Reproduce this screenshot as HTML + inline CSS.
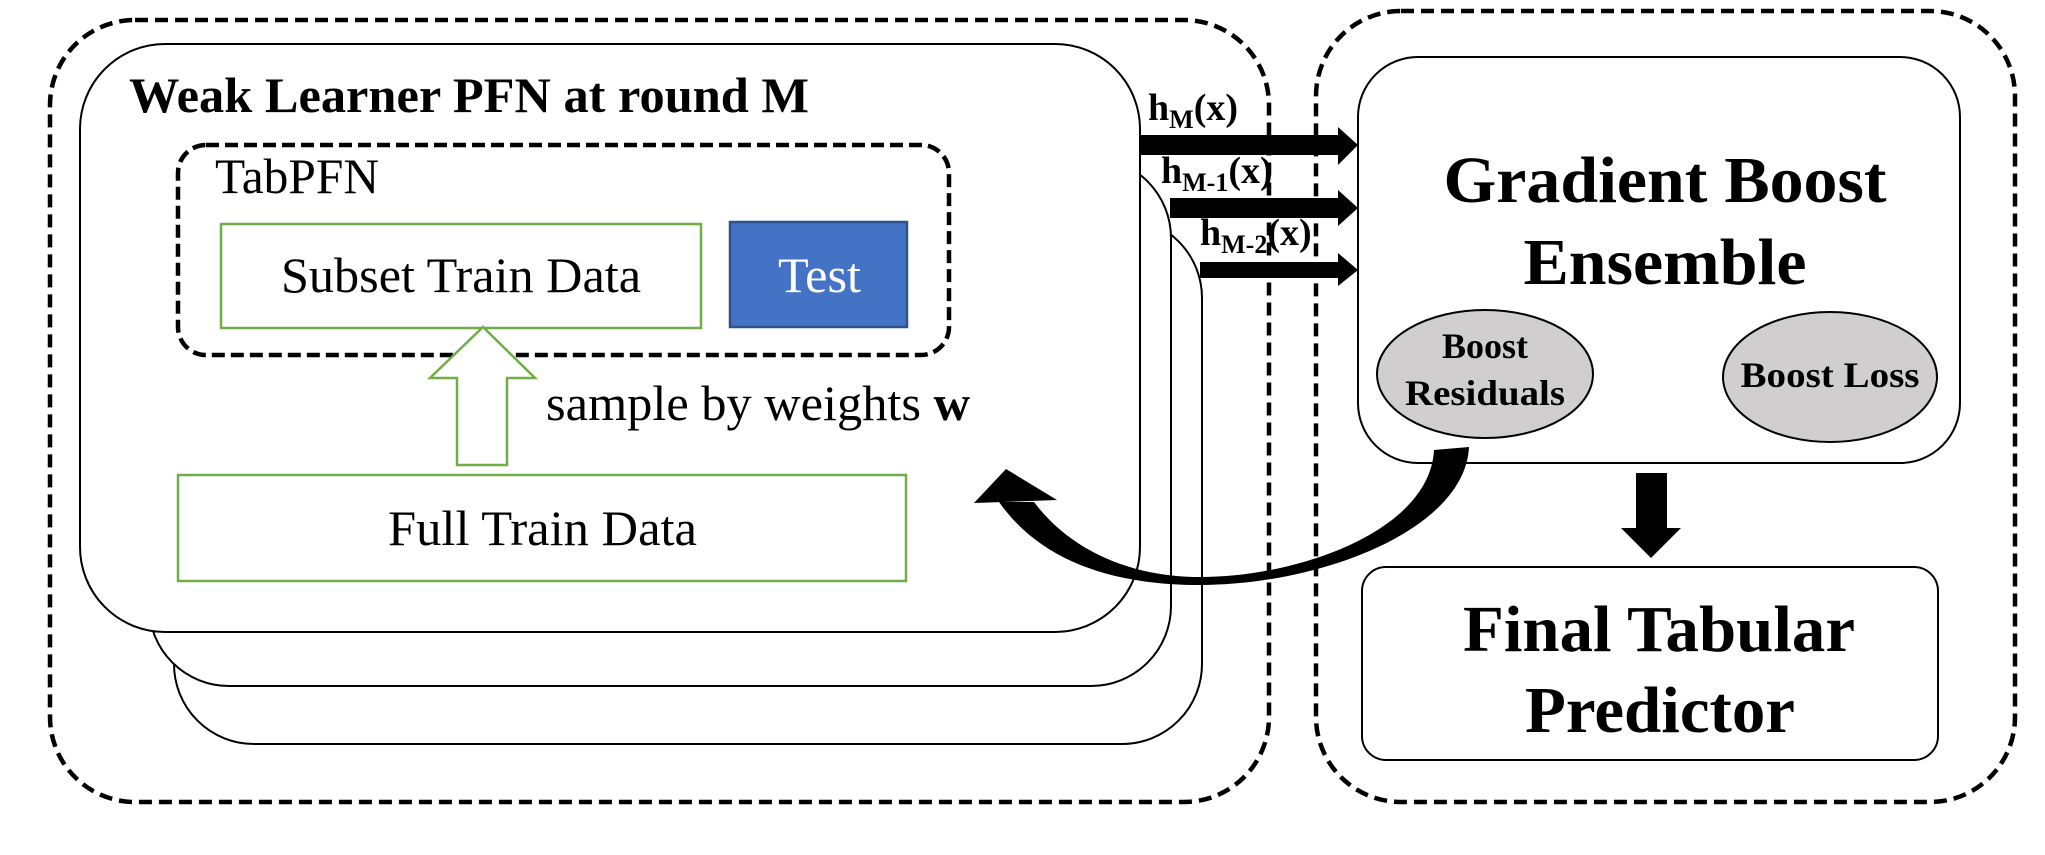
<!DOCTYPE html>
<html><head><meta charset="utf-8"><style>
html,body{margin:0;padding:0;background:#fff;}
svg{display:block;}
text{font-family:"Liberation Serif",serif;}
</style></head><body>
<svg width="2045" height="855" viewBox="0 0 2045 855" xmlns="http://www.w3.org/2000/svg">
<rect width="2045" height="855" fill="#fff"/>
<!-- stacked cards -->
<rect x="174" y="218" width="1028" height="526" rx="80" fill="#fff" stroke="#000" stroke-width="2"/>
<rect x="149" y="158" width="1022" height="528" rx="80" fill="#fff" stroke="#000" stroke-width="2"/>
<rect x="80" y="44" width="1060" height="588" rx="85" fill="#fff" stroke="#000" stroke-width="2"/>
<text x="129" y="112" font-size="50" font-weight="bold" textLength="680" lengthAdjust="spacingAndGlyphs">Weak Learner PFN at round M</text>
<!-- TabPFN -->
<rect x="178" y="145" width="771" height="210" rx="28" fill="none" stroke="#000" stroke-width="4.5" stroke-dasharray="13,6"/>
<text x="215" y="193" font-size="50" textLength="164" lengthAdjust="spacingAndGlyphs">TabPFN</text>
<rect x="221" y="224" width="480" height="104" fill="#fff" stroke="#70AD47" stroke-width="2.5"/>
<text x="281" y="292" font-size="50" textLength="360" lengthAdjust="spacingAndGlyphs">Subset Train Data</text>
<rect x="730" y="222" width="177" height="105" fill="#4472C4" stroke="#2F528F" stroke-width="2.5"/>
<text x="778" y="292" font-size="50" fill="#fff" textLength="83" lengthAdjust="spacingAndGlyphs">Test</text>
<!-- hollow up arrow -->
<polygon points="483,327 535,378 507,378 507,465 457,465 457,378 430,378" fill="#fff" stroke="#70AD47" stroke-width="2.5"/>
<text x="546" y="420" font-size="50" textLength="424" lengthAdjust="spacingAndGlyphs">sample by weights <tspan font-weight="bold">w</tspan></text>
<rect x="178" y="475" width="728" height="106" fill="#fff" stroke="#70AD47" stroke-width="2.5"/>
<text x="388" y="545" font-size="50" textLength="309" lengthAdjust="spacingAndGlyphs">Full Train Data</text>
<!-- outer dashed boxes -->
<rect x="50" y="20" width="1219" height="782" rx="85" fill="none" stroke="#000" stroke-width="4.5" stroke-dasharray="13,7"/>
<rect x="1316" y="11" width="699" height="791" rx="85" fill="none" stroke="#000" stroke-width="4.5" stroke-dasharray="13,7"/>
<!-- h arrows -->
<polygon points="1140,135 1338,135 1338,127 1358,145 1338,165 1338,155 1140,155" fill="#000"/>
<polygon points="1170,198 1338,198 1338,190 1358,208 1338,226 1338,218 1170,218" fill="#000"/>
<polygon points="1200,262 1338,262 1338,253 1358,270 1338,286 1338,278 1200,278" fill="#000"/>
<text x="1148" y="120" font-size="38" font-weight="bold">h<tspan font-size="26" dy="8">M</tspan><tspan dy="-8">(x)</tspan></text>
<text x="1161" y="183" font-size="38" font-weight="bold">h<tspan font-size="26" dy="8">M-1</tspan><tspan dy="-8">(x)</tspan></text>
<text x="1200" y="245" font-size="38" font-weight="bold">h<tspan font-size="26" dy="8">M-2</tspan><tspan dy="-8">(x)</tspan></text>
<!-- Gradient Boost box -->
<rect x="1358" y="57" width="602" height="406" rx="60" fill="#fff" stroke="#000" stroke-width="2"/>
<text x="1665" y="202" font-size="66" font-weight="bold" text-anchor="middle" textLength="443" lengthAdjust="spacingAndGlyphs">Gradient Boost</text>
<text x="1665" y="284" font-size="66" font-weight="bold" text-anchor="middle" textLength="283" lengthAdjust="spacingAndGlyphs">Ensemble</text>
<ellipse cx="1485" cy="374" rx="108" ry="64" fill="#D0CECE" stroke="#000" stroke-width="2"/>
<text x="1485" y="358" font-size="36" font-weight="bold" text-anchor="middle">Boost</text>
<text x="1485" y="405" font-size="36" font-weight="bold" text-anchor="middle" textLength="160" lengthAdjust="spacingAndGlyphs">Residuals</text>
<ellipse cx="1830" cy="377" rx="107" ry="65" fill="#D0CECE" stroke="#000" stroke-width="2"/>
<text x="1830" y="387" font-size="36" font-weight="bold" text-anchor="middle" textLength="179" lengthAdjust="spacingAndGlyphs">Boost Loss</text>
<!-- curved arrow -->
<path d="M1469,447 C1465,530 1320,585 1200,585 C1110,585 1040,560 999,502 L1034,502 C1070,550 1130,577 1200,577 C1300,577 1430,530 1434,450 Z" fill="#000"/>
<polygon points="1006,469 1057,500 974,503" fill="#000"/>
<!-- down arrow -->
<polygon points="1636,473 1667,473 1667,528 1681,528 1651,558 1621,528 1636,528" fill="#000"/>
<!-- Final box -->
<rect x="1362" y="567" width="576" height="193" rx="24" fill="#fff" stroke="#000" stroke-width="2"/>
<text x="1659" y="651" font-size="66" font-weight="bold" text-anchor="middle" textLength="392" lengthAdjust="spacingAndGlyphs">Final Tabular</text>
<text x="1660" y="732" font-size="66" font-weight="bold" text-anchor="middle" textLength="270" lengthAdjust="spacingAndGlyphs">Predictor</text>
</svg>
</body></html>
